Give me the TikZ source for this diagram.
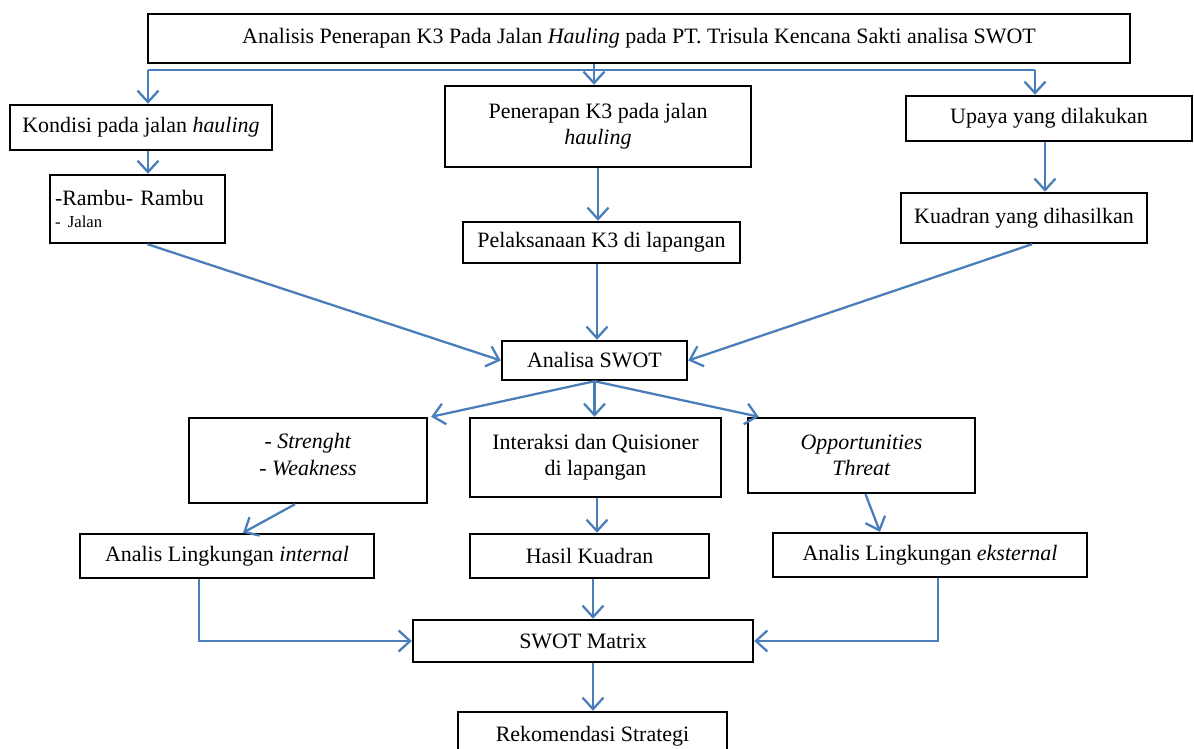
\documentclass[tikz,border=0pt]{standalone}
\usepackage{fontspec}
\setmainfont{Liberation Serif}
\usepackage{tikz}
\usetikzlibrary{arrows.meta}
\definecolor{biru}{HTML}{4A7EBB}

\begin{document}
\begin{tikzpicture}[x=0.02cm, y=-0.02cm, font=\fontsize{12.5}{15}\selectfont,
  kotak/.style={draw, line width=1.4pt, inner sep=2pt, align=center},
  garis/.style={draw=biru, line width=1.3pt},
  panah/.style={garis, -{Straight Barb[length=2.3mm,width=4.2mm]}}]

\useasboundingbox (0,0) rectangle (1194,749);

\node[kotak, minimum width=19.64cm, minimum height=0.98cm] (judul) at (639,38.5) {Analisis Penerapan K3 Pada Jalan \textit{Hauling} pada PT. Trisula Kencana Sakti analisa SWOT};
\node[kotak, minimum width=5.24cm, minimum height=0.9cm] (kondisi) at (141,127.5) {Kondisi pada jalan \textit{hauling}};
\node[kotak, minimum width=3.5cm, minimum height=1.36cm, text width=3.3cm, align=left] (rambu) at (137.5,209) {-Rambu- Rambu\\[-2pt]{\fontsize{9.5}{12}\selectfont - Jalan}};
\node[kotak, minimum width=6.12cm, minimum height=1.62cm] (penerapan) at (598,126.5) {Penerapan K3 pada jalan\\ \textit{hauling}};
\node[kotak, minimum width=5.54cm, minimum height=0.82cm] (pelaksanaan) at (601.5,242.5) {Pelaksanaan K3 di lapangan};
\node[kotak, minimum width=5.72cm, minimum height=0.9cm] (upaya) at (1049,118.5) {Upaya yang dilakukan};
\node[kotak, minimum width=4.92cm, minimum height=1cm] (kuadran) at (1024,218) {Kuadran yang dihasilkan};

\node[kotak, minimum width=3.7cm, minimum height=0.78cm] (analisa) at (594.5,360.5) {Analisa SWOT};

\node[kotak, minimum width=4.76cm, minimum height=1.7cm] (strenght) at (308,460.5) {- \textit{Strenght}\\ - \textit{Weakness}\\[-8pt]};
\node[kotak, minimum width=5.02cm, minimum height=1.58cm] (interaksi) at (595.5,457.5) {Interaksi dan Quisioner\\ di lapangan};
\node[kotak, minimum width=4.54cm, minimum height=1.5cm] (peluang) at (861.5,455.5) {\textit{Opportunities}\\ \textit{Threat}};
\node[kotak, minimum width=5.88cm, minimum height=0.88cm] (internal) at (227,556) {Analis Lingkungan \textit{internal}};
\node[kotak, minimum width=4.78cm, minimum height=0.88cm] (hasil) at (589.5,556) {Hasil Kuadran};
\node[kotak, minimum width=6.28cm, minimum height=0.88cm] (eksternal) at (930,555) {Analis Lingkungan \textit{eksternal}};
\node[kotak, minimum width=6.8cm, minimum height=0.84cm] (matriks) at (583,641) {SWOT Matrix};
\node[kotak, minimum width=5.38cm, minimum height=0.96cm] (rekomendasi) at (592.5,736) {Rekomendasi Strategi};

\coordinate (cabang) at (594,70);
\draw[garis] ([xshift=0.14cm]kondisi.north |- cabang) -- ([xshift=-0.28cm]upaya.north |- cabang);
\draw[panah] ([xshift=0.14cm]kondisi.north |- cabang) -- ([xshift=0.14cm]kondisi.north);
\draw[panah] ([xshift=-0.28cm]upaya.north |- cabang) -- ([xshift=-0.28cm]upaya.north);
\draw[panah] (judul.south -| cabang) -- (penerapan.north -| cabang);

\draw[panah] ([xshift=0.14cm]kondisi.south) -- ([xshift=0.14cm]kondisi.south |- rambu.north);
\draw[panah] (penerapan.south) -- (penerapan.south |- pelaksanaan.north);
\draw[panah] ([xshift=-0.08cm]upaya.south) -- ([xshift=-0.08cm]upaya.south |- kuadran.north);

\draw[panah] ([xshift=0.2cm]rambu.south) -- (analisa.west);
\draw[panah] ([xshift=-0.09cm]pelaksanaan.south) -- ([xshift=-0.09cm]pelaksanaan.south |- analisa.north);
\draw[panah] ([xshift=0.16cm]kuadran.south) -- (analisa.east);

\draw[panah] (analisa.south) -- ([xshift=0.06cm]strenght.north east);
\draw[panah] (analisa.south) -- (analisa.south |- interaksi.north);
\draw[panah] (analisa.south) -- ([xshift=0.24cm]peluang.north west);

\draw[panah] ([xshift=-0.26cm]strenght.south) -- ([xshift=0.32cm]internal.north);
\draw[panah] ([xshift=0.03cm]interaksi.south) -- ([xshift=0.03cm]interaksi.south |- hasil.north);
\draw[panah] ([xshift=0.08cm]peluang.south) -- ([xshift=-1cm]eksternal.north);

\draw[panah] ([xshift=-0.56cm]internal.south) |- (matriks.west);
\draw[panah] ([xshift=0.16cm]eksternal.south) |- (matriks.east);
\draw[panah] ([xshift=0.07cm]hasil.south) -- ([xshift=0.07cm]hasil.south |- matriks.north);
\draw[panah] ([xshift=0.01cm]rekomendasi.north |- matriks.south) -- ([xshift=0.01cm]rekomendasi.north);

\end{tikzpicture}
\end{document}
